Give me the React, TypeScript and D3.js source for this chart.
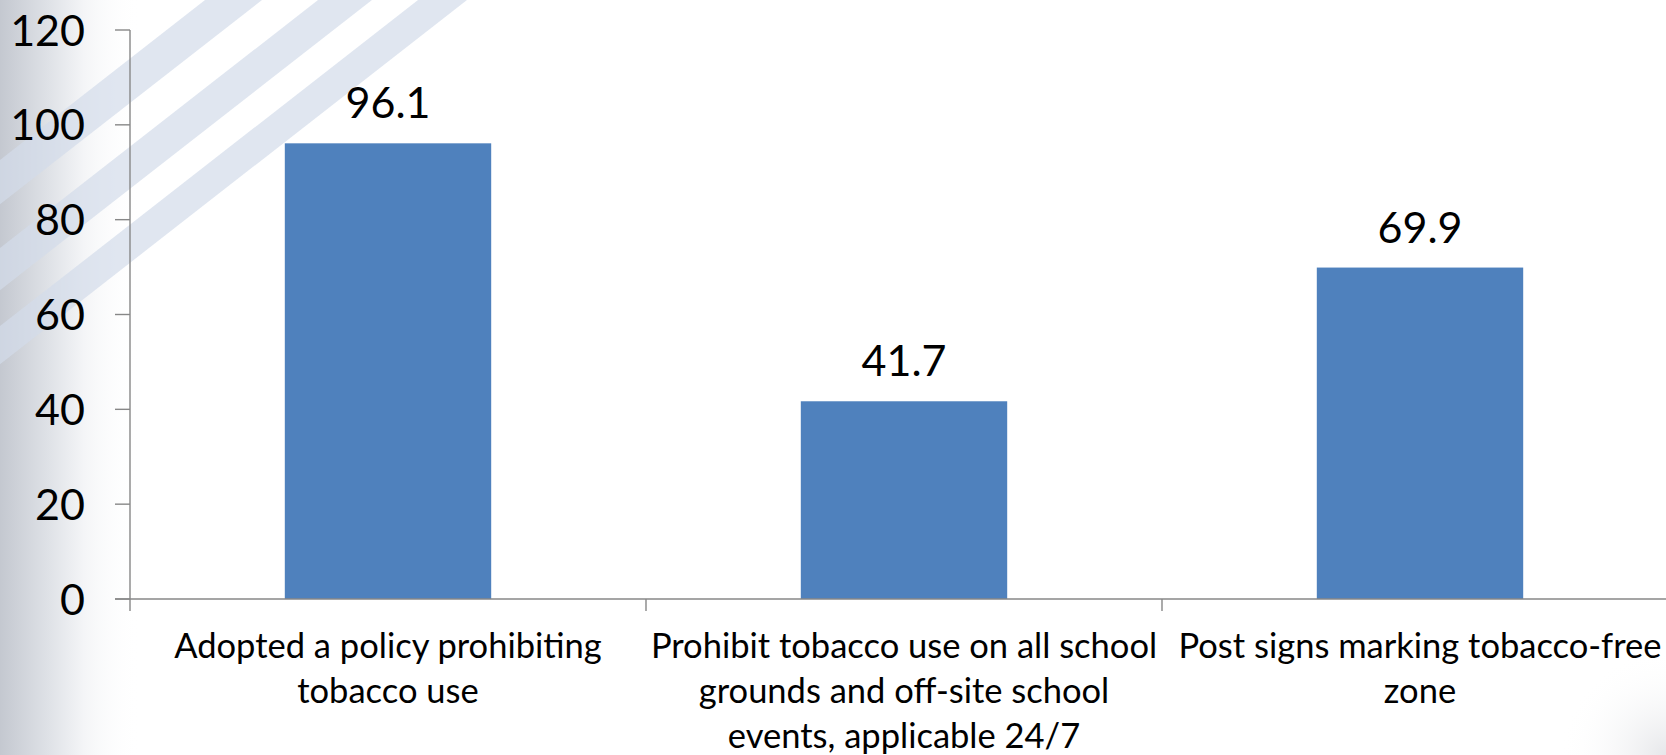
import React from "react";
import * as d3 from "d3";

const categories = [
  "Adopted a policy prohibiting tobacco use",
  "Prohibit tobacco use on all school grounds and off-site school events, applicable 24/7",
  "Post signs marking tobacco-free zone",
];
const categoryLines = [
  ["Adopted a policy prohibiting", "tobacco use"],
  ["Prohibit tobacco use on all school", "grounds and off-site school", "events, applicable 24/7"],
  ["Post signs marking tobacco-free", "zone"],
];
const values = [96.1, 41.7, 69.9];
const yTicks = [0, 20, 40, 60, 80, 100, 120];

const W = 1666;
const H = 755;
const FONT = "Lato, 'Open Sans', sans-serif";

export default function App() {
  const x = d3.scaleBand<string>().domain(categories).range([130, 130 + 516 * 3]).padding(0);
  const y = d3.scaleLinear().domain([0, 120]).range([599, 30]);
  const bw = x.bandwidth();
  const barW = bw * 0.4;
  const axisColor = "#878787";

  // decorative diagonal stripes: x-intercepts at the top edge, slope (dy/dx)
  const slope = 0.78;
  const stripes = [
    [205, 262],
    [318, 372],
    [418, 467],
  ];
  const stripe = ([a, b]: number[]) => {
    const yAt = (px: number, a0: number) => slope * (a0 - px);
    return `M${a},0 L${b},0 L0,${yAt(0, b)} L0,${yAt(0, a)} Z`;
  };

  return (
    <svg
      width={W}
      height={H}
      style={{ position: "absolute", left: 0, top: 0, display: "block" }}
      fontFamily={FONT}
    >
      <defs>
        <linearGradient id="leftShade" x1="0" x2="1" y1="0" y2="0">
          <stop offset="0" stopColor="#c4c8d0" />
          <stop offset="0.35" stopColor="#dfe2e7" />
          <stop offset="0.6" stopColor="#f4f5f7" />
          <stop offset="1" stopColor="#ffffff" stopOpacity="0" />
        </linearGradient>
        <radialGradient id="brShade" cx="1" cy="1" r="1">
          <stop offset="0" stopColor="#e6e7ea" />
          <stop offset="1" stopColor="#ffffff" stopOpacity="0" />
        </radialGradient>
      </defs>
      <rect x={0} y={0} width={W} height={H} fill="#ffffff" />
      <rect x={0} y={0} width={140} height={H} fill="url(#leftShade)" />
      <rect x={1560} y={650} width={106} height={105} fill="url(#brShade)" />
      {stripes.map((s, i) => (
        <path key={i} d={stripe(s)} fill="#d3dbea" opacity={0.7} />
      ))}

      {/* bars */}
      {values.map((v, i) => {
        const cx = (x(categories[i]) as number) + bw / 2;
        return (
          <rect
            key={i}
            x={cx - barW / 2}
            y={y(v)}
            width={barW}
            height={y(0) - y(v)}
            fill="#4f81bd"
          />
        );
      })}

      {/* y axis */}
      <line x1={130} x2={130} y1={y(120)} y2={y(0)} stroke={axisColor} strokeWidth={1.4} />
      {yTicks.map((t) => (
        <g key={t}>
          <line x1={115} x2={130} y1={y(t)} y2={y(t)} stroke={axisColor} strokeWidth={1.4} />
          <text x={85} y={y(t) + 15.5} textAnchor="end" fontSize={43} fill="#000">
            {t}
          </text>
        </g>
      ))}

      {/* x axis */}
      <line x1={115} x2={W} y1={y(0)} y2={y(0)} stroke={axisColor} strokeWidth={1.4} />
      {categories.map((c) => (
        <line
          key={c}
          x1={x(c) as number}
          x2={x(c) as number}
          y1={y(0)}
          y2={y(0) + 12}
          stroke={axisColor}
          strokeWidth={1.4}
        />
      ))}

      {/* value labels */}
      {values.map((v, i) => {
        const cx = (x(categories[i]) as number) + bw / 2;
        return (
          <text key={i} x={cx} y={y(v) - 25} textAnchor="middle" fontSize={43} fill="#000">
            {v.toFixed(1)}
          </text>
        );
      })}

      {/* category labels */}
      {categoryLines.map((lines, i) => {
        const cx = (x(categories[i]) as number) + bw / 2;
        return (
          <text key={i} textAnchor="middle" fontSize={34.5} fill="#000">
            {lines.map((l, j) => (
              <tspan key={j} x={cx} y={658 + j * 45}>
                {l}
              </tspan>
            ))}
          </text>
        );
      })}
    </svg>
  );
}
